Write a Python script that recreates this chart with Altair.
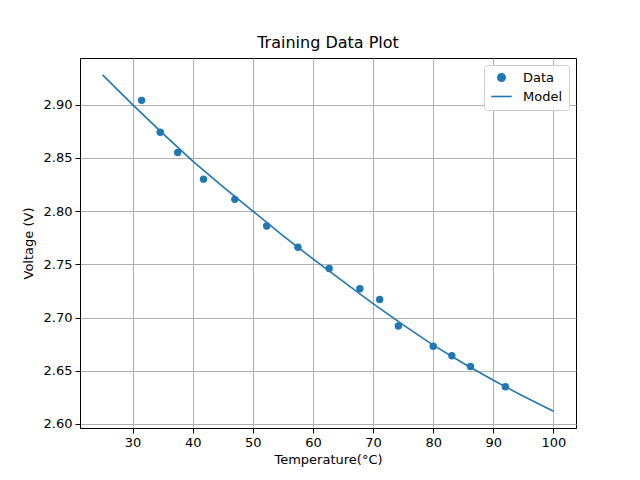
import pandas as pd
import altair as alt

# measured training points
temp_data = [31.5, 34.6, 37.5, 41.8, 47.0, 52.3, 57.5, 62.7, 67.8, 71.1, 74.2, 80.0, 83.1, 86.2, 92.0]
volt_data = [2.904, 2.874, 2.855, 2.830, 2.811, 2.786, 2.766, 2.746, 2.727, 2.717, 2.692, 2.673, 2.664, 2.654, 2.635]

# fitted model curve
temp_model = [25, 30, 35, 40, 45, 50, 55, 60, 65, 70, 75, 80, 85, 90, 95, 100]
volt_model = [2.928, 2.900, 2.873, 2.847, 2.823, 2.800, 2.777, 2.755, 2.734, 2.713, 2.693, 2.674, 2.657, 2.641, 2.626, 2.612]

series = ['Data', 'Model']
blue   = '#1f77b4'

pts  = pd.DataFrame({'T': temp_data,  'V': volt_data,  'series': 'Data'})
mdl  = pd.DataFrame({'T': temp_model, 'V': volt_model, 'series': 'Model'})

x_enc = alt.X('T:Q', title='Temperature(°C)',
              scale=alt.Scale(domain=[21.25, 103.75], nice=False, zero=False),
              axis=alt.Axis(values=list(range(30, 101, 10)), titlePadding=4))
y_enc = alt.Y('V:Q', title='Voltage (V)',
              scale=alt.Scale(domain=[2.5962, 2.9438], nice=False, zero=False),
              axis=alt.Axis(values=[2.60, 2.65, 2.70, 2.75, 2.80, 2.85, 2.90], format='.2f', titlePadding=8))
leg = alt.Legend(title=None, orient='top-right', offset=7,
                 fillColor='white', strokeColor='#cccccc', cornerRadius=3,
                 padding=6, labelFontSize=13, symbolStrokeColor=blue, symbolStrokeWidth=1.6,
                 rowPadding=0, labelOffset=10, labelColor='black')
c_enc = alt.Color('series:N', scale=alt.Scale(domain=series, range=[blue, blue]), legend=leg)
s_enc = alt.Shape('series:N', scale=alt.Scale(domain=series, range=['circle', 'stroke']), legend=leg)
z_enc = alt.Size('series:N', scale=alt.Scale(domain=series, range=[55, 420]), legend=leg)

dots = alt.Chart(pts).mark_point(filled=True, opacity=1).encode(x=x_enc, y=y_enc, color=c_enc, shape=s_enc, size=z_enc)
line = alt.Chart(mdl).mark_line(strokeWidth=1.6).encode(x=x_enc, y=y_enc, color=c_enc)

chart = alt.layer(line, dots).properties(
    width=496, height=370, autosize='none',
    padding={'left': 72, 'top': 50, 'right': 50, 'bottom': 44},
    title=alt.Title('Training Data Plot', fontSize=16, fontWeight='normal', offset=7, color='black'),
).configure(font='DejaVu Sans').configure_view(
    stroke='black', strokeWidth=1
).configure_axis(
    grid=True, gridColor='#b0b0b0', gridWidth=1,
    domainColor='black', tickColor='black', tickSize=5,
    labelColor='black', labelFontSize=13, labelPadding=3,
    titleColor='black', titleFontSize=13, titleFontWeight='normal',
)

chart.save("out.html", embed_options={"renderer": "svg", "actions": False})
